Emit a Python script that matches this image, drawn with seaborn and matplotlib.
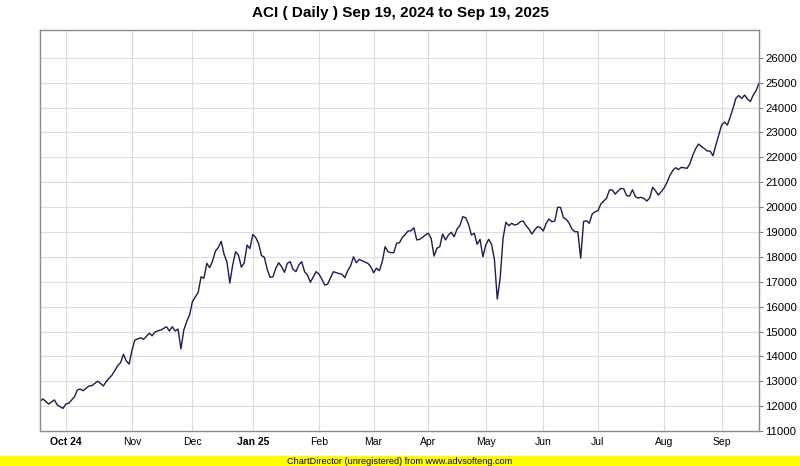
import matplotlib
matplotlib.use("Agg")
import matplotlib.pyplot as plt
from matplotlib.patches import Rectangle
import seaborn as sns
import pandas as pd

# ---- data ----
sessions = [0, 1, 3, 5, 6, 8, 9, 10, 11, 12, 13, 14, 15, 16, 17, 18, 20, 21, 22, 23,
            24, 25, 26, 27, 28, 29, 30, 31, 32, 33, 34, 35, 36, 38, 39, 40, 41, 42, 44, 45,
            46, 47, 48, 49, 50, 51, 52, 53, 54, 55, 56, 57, 58, 59, 60, 61, 62, 63, 64, 65,
            66, 67, 68, 69, 70, 71, 72, 73, 74, 75, 76, 77, 78, 79, 80, 81, 82, 83, 84, 85,
            86, 87, 88, 89, 90, 91, 92, 93, 94, 96, 97, 98, 99, 100, 102, 103, 105, 106, 107, 108,
            109, 110, 111, 112, 114, 115, 116, 117, 118, 119, 120, 121, 122, 123, 124, 125, 126, 127, 128, 129,
            130, 131, 132, 133, 134, 135, 136, 137, 138, 139, 140, 141, 142, 143, 144, 145, 146, 147, 148, 149,
            150, 151, 152, 153, 154, 155, 156, 157, 158, 159, 160, 161, 162, 163, 164, 165, 166, 167, 168, 169,
            170, 171, 172, 173, 174, 175, 176, 177, 178, 179, 180, 181, 182, 183, 184, 185, 186, 187, 188, 189,
            190, 191, 192, 193, 194, 195, 196, 197, 198, 199, 200, 201, 202, 203, 204, 205, 206, 207, 208, 209,
            210, 211, 212, 213, 214, 215, 216, 217, 218, 219, 220, 221, 222, 223, 224, 225, 226, 227, 228, 229,
            230, 231, 232, 233, 234, 235, 236, 237, 238, 239, 240, 241, 242, 243, 244, 245, 246, 247, 248, 249,
            250]

close = [12180, 12290, 12085, 12250, 12045, 11910, 12085, 12115, 12245, 12380, 12650, 12690, 12620, 12715, 12810, 12820, 13000, 12920, 12810, 12980,
         13120, 13240, 13425, 13625, 13745, 14080, 13815, 13690, 14255, 14660, 14700, 14750, 14685, 14930, 14830, 14980, 15030, 15060, 15190, 15020,
         15190, 15020, 15100, 14300, 15060, 15395, 15665, 16200, 16390, 16570, 17200, 17140, 17740, 17565, 17835, 18235, 18375, 18625, 18105, 17795,
         16950, 17675, 18210, 18075, 17585, 17755, 18475, 18335, 18900, 18780, 18540, 18055, 17985, 17500, 17180, 17200, 17540, 17765, 17605, 17380,
         17740, 17805, 17500, 17405, 17675, 17805, 17405, 17270, 16980, 17405, 17310, 17100, 16870, 16900, 17405, 17365, 17300, 17165, 17445, 17635,
         18005, 17765, 17900, 17845, 17740, 17605, 17365, 17540, 17445, 17805, 18410, 18210, 18170, 18170, 18545, 18570, 18785, 18905, 19040, 19050,
         19170, 18680, 18705, 18785, 18880, 18950, 18745, 18035, 18345, 18410, 18920, 18680, 18880, 18990, 18810, 19120, 19255, 19615, 19575, 19310,
         18880, 18950, 18505, 18705, 18005, 18475, 18705, 18505, 17900, 16305, 17140, 18745, 19390, 19255, 19350, 19280, 19310, 19415, 19440, 19255,
         19120, 18920, 19080, 19215, 19175, 19040, 19350, 19520, 19415, 19440, 19995, 19985, 19575, 19510, 19350, 19110, 19010, 19010, 17945, 19415,
         19455, 19350, 19725, 19815, 19855, 20125, 20245, 20355, 20690, 20690, 20525, 20650, 20755, 20730, 20460, 20445, 20700, 20425, 20365, 20395,
         20345, 20245, 20365, 20795, 20660, 20485, 20620, 20770, 20990, 21270, 21470, 21585, 21510, 21600, 21580, 21560, 21755, 22095, 22355, 22535,
         22435, 22355, 22255, 22255, 22065, 22495, 22900, 23300, 23420, 23300, 23625, 23985, 24385, 24485, 24365, 24505, 24345, 24245, 24505, 24690,
         24980]

month_sessions = [9, 32, 53, 74, 97, 116, 135, 155, 175, 194, 217, 237]
month_labels = ["Oct 24", "Nov", "Dec", "Jan 25", "Feb", "Mar", "Apr", "May", "Jun", "Jul", "Aug", "Sep"]
year_labels = {"Oct 24", "Jan 25"}
y_ticks = list(range(11000, 27000, 1000))

title = "ACI ( Daily ) Sep 19, 2024 to Sep 19, 2025"
footer = "ChartDirector (unregistered) from www.advsofteng.com"

# ---- style ----
sns.set_theme(style="white")
plt.rcParams['font.family'] = ['Liberation Sans', 'DejaVu Sans']

df = pd.DataFrame({"session": sessions, "close": close})

fig = plt.figure(figsize=(8, 4.66), dpi=100)
fig.patch.set_facecolor("white")
ax = fig.add_axes([0.05, 0.0751, 0.89875, 0.8605])

sns.lineplot(data=df, x="session", y="close", ax=ax, color="#1c1c50", linewidth=1.0)

ax.set_xlim(0, 250)
ax.set_ylim(11000, 27120)

ax.set_xticks(month_sessions)
ax.set_xticklabels(month_labels)
for lbl in ax.get_xticklabels():
    if lbl.get_text() in year_labels:
        lbl.set_fontweight("bold")

ax.yaxis.tick_right()
ax.set_yticks(y_ticks)
ax.set_yticklabels([str(v) for v in y_ticks])

ax.tick_params(axis="x", length=0, labelsize=7.5, pad=4, colors="#000000")
ax.tick_params(axis="y", which="major", direction="out", length=3, width=0.8,
               color="#808080", labelsize=8.2, pad=1.5, labelcolor="#000000")

ax.grid(True, color="#dcdcdc", linewidth=0.8)
ax.set_axisbelow(True)
for s in ax.spines.values():
    s.set_color("#8c8c8c")
    s.set_linewidth(1.0)
    s.set_visible(True)

ax.set_xlabel("")
ax.set_ylabel("")

fig.text(0.5, 1 - 13 / 466, title, ha="center", va="center",
         fontsize=11, fontweight="bold", color="#000000")

fig.patches.append(Rectangle((0, 0), 1, 10 / 466, transform=fig.transFigure,
                             facecolor="#ffff00", edgecolor="none", zorder=0))
fig.text(0.5, 5 / 466, footer, ha="center", va="center", fontsize=6.6, color="#000000")

fig.savefig("out.png", dpi=100)
